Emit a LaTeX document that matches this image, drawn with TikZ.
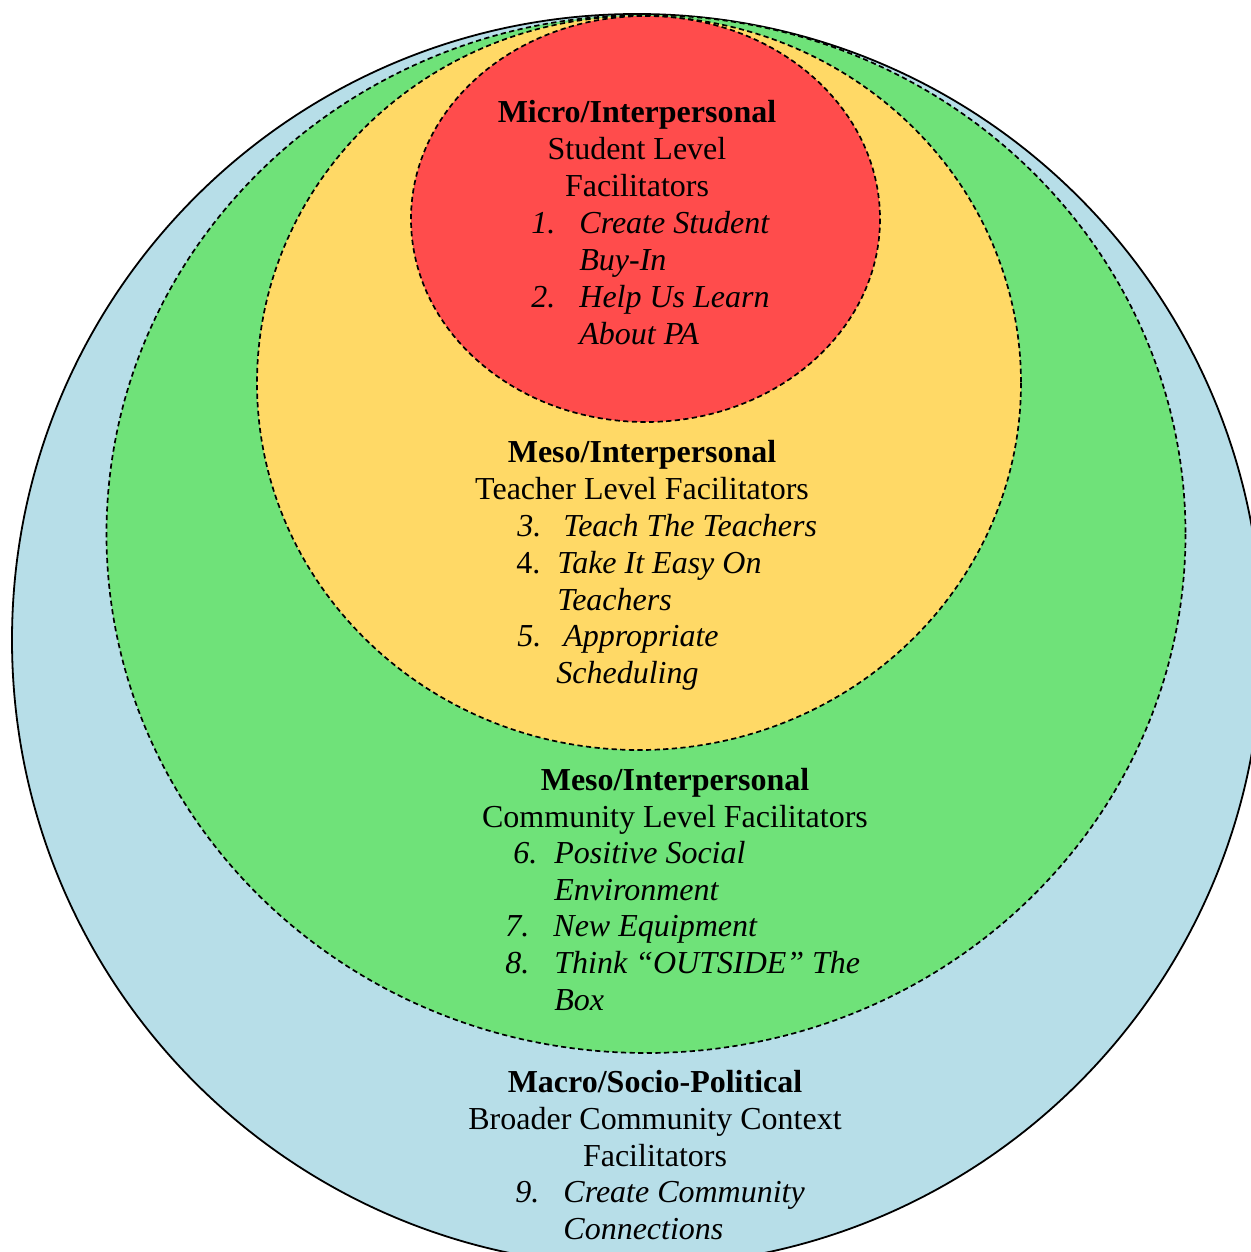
\documentclass[tikz,border=0pt]{standalone}
\usepackage{fontspec}
\setmainfont{Liberation Serif}
\usetikzlibrary{positioning}

\definecolor{macroblue}{HTML}{B7DEE8}
\definecolor{mesogreen}{HTML}{6FE279}
\definecolor{mesoyellow}{HTML}{FFD966}
\definecolor{microred}{HTML}{FF4C4C}
\newcommand{\lvlfont}{\fontsize{16}{18.5}\selectfont}

\begin{document}
\begin{tikzpicture}[x=0.5pt, y=-0.5pt,
                ring/.style={draw=black, line width=0.85pt, dash pattern=on 2.6pt off 1.7pt},
                head/.style={anchor=base, inner sep=0pt, font=\lvlfont\bfseries},
                txt/.style={anchor=base, inner sep=0pt, font=\lvlfont},
                num/.style={anchor=base west, inner sep=0pt, font=\lvlfont\itshape},
                item/.style={anchor=base west, inner sep=0pt, font=\lvlfont\itshape}]

      \useasboundingbox (0,0) rectangle (1251,1252);
      \clip (0,0) rectangle (1251,1252);

      % the four levels
      \draw[fill=macroblue, line width=0.9pt] (637,640) ellipse [x radius=625, y radius=626];
      \draw[ring, fill=mesogreen] (646,534) ellipse [x radius=539.5, y radius=519];
      \draw[ring, fill=mesoyellow] (639,383) ellipse [x radius=382, y radius=367];
      \draw[ring, fill=microred] (645.5,219) ellipse [x radius=234.5, y radius=203];

      % micro level
      \node[head] (mi) at (637,122) {Micro/Interpersonal};
      \node[below=18.5pt of mi.base, txt] (mi2) {Student Level};
      \node[below=18.5pt of mi2.base, txt] (mi3) {Facilitators};
      \node[num] (n1) at (531,233) {1.};
      \node[item] (i1) at (579,233) {Create Student};
      \node[below=18.5pt of i1.base west, item] (i1b) {Buy-In};
      \node[num] (n2) at (531,307) {2.};
      \node[item] (i2) at (579,307) {Help Us Learn};
      \node[below=18.5pt of i2.base west, item] (i2b) {About PA};

      % teacher level
      \node[head] (te) at (642,462) {Meso/Interpersonal};
      \node[below=18.5pt of te.base, txt] (te2) {Teacher Level Facilitators};
      \node[num] (n3) at (517,536) {3.};
      \node[item] (i3) at (563,536) {Teach The Teachers};
      \node[num, font=\lvlfont\upshape] (n4) at (516,573) {4.};
      \node[item] (i4) at (557,573) {Take It Easy On};
      \node[below=18.5pt of i4.base west, item] (i4b) {Teachers};
      \node[num] (n5) at (517,646) {5.};
      \node[item] (i5) at (563,646) {Appropriate};
      \node[item] (i5b) at (556,683) {Scheduling};

      % community level
      \node[head] (co) at (675,790) {Meso/Interpersonal};
      \node[below=18.5pt of co.base, txt] (co2) {Community Level Facilitators};
      \node[num] (n6) at (513,863) {6.};
      \node[item] (i6) at (554,863) {Positive Social};
      \node[below=18.5pt of i6.base west, item] (i6b) {Environment};
      \node[num] (n7) at (505,936) {7.};
      \node[item] (i7) at (553,936) {New Equipment};
      \node[num] (n8) at (505,973) {8.};
      \node[item] (i8) at (554,973) {Think “OUTSIDE” The};
      \node[below=18.5pt of i8.base west, item] (i8b) {Box};

      % broader community
      \node[head] (ma) at (655,1092) {Macro/Socio-Political};
      \node[below=18.5pt of ma.base, txt] (ma2) {Broader Community Context};
      \node[below=18.5pt of ma2.base, txt] (ma3) {Facilitators};
      \node[num] (n9) at (515,1202) {9.};
      \node[item] (i9) at (563,1202) {Create Community};
      \node[below=18.5pt of i9.base west, item] (i9b) {Connections};
  \end{tikzpicture}
\end{document}
